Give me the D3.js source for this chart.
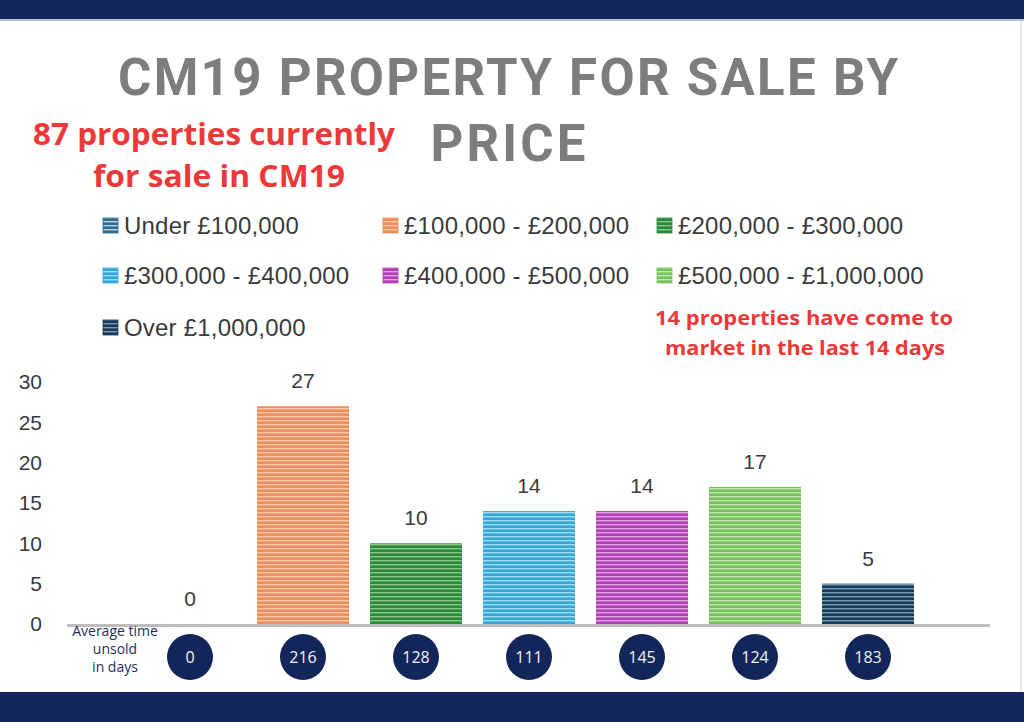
<!DOCTYPE html>
<html>
<head>
<meta charset="utf-8">
<script src="https://cdn.jsdelivr.net/npm/d3@7"></script>
<style>
  body { margin: 0; background: #fff; }
  svg { display: block; }
</style>
</head>
<body>
<div id="chart"></div>
<script>
// data
var categories = ["Under £100,000", "£100,000 - £200,000", "£200,000 - £300,000",
  "£300,000 - £400,000", "£400,000 - £500,000", "£500,000 - £1,000,000", "Over £1,000,000"];
var counts = [0, 27, 10, 14, 14, 17, 5];
var avgDays = [0, 216, 128, 111, 145, 124, 183];
var yTicks = [0, 5, 10, 15, 20, 25, 30];
var colors = ["#2d6b94", "#ef8d58", "#2c8a3a", "#30a7dc", "#b23fb5", "#76c25a", "#1b3a56"];
var stripeColors = ["#ffffff", "#ffe2cf", "#a8e0a8", "#d8f2ff", "#f6c8f4", "#e3f8d4", "#9cc6e2"];

var w = 1024;
var h = 722;
var navy = "#13265a";

var svg = d3.select("#chart")
    .append("svg")
    .attr("width", w)
    .attr("height", h);

svg.append("rect").attr("width", w).attr("height", h).attr("fill", "#fff");

// stripe patterns for the bars
var defs = svg.append("defs");
colors.forEach(function(c, i) {
  var p = defs.append("pattern")
      .attr("id", "stripe" + i)
      .attr("patternUnits", "userSpaceOnUse")
      .attr("width", 8)
      .attr("height", 4);
  p.append("rect").attr("width", 8).attr("height", 4).attr("fill", c);
  p.append("rect").attr("y", 0).attr("width", 8).attr("height", 1.4)
      .attr("fill", stripeColors[i]).attr("opacity", 0.7);
});

// frame bands
svg.append("rect").attr("x", 0).attr("y", 0).attr("width", w).attr("height", 19).attr("fill", navy);
svg.append("rect").attr("x", 0).attr("y", 19).attr("width", w).attr("height", 2).attr("fill", "#b9c0d4");
svg.append("rect").attr("x", 0).attr("y", 692).attr("width", w).attr("height", 30).attr("fill", navy);
svg.append("line").attr("x1", 1021).attr("x2", 1021).attr("y1", 21).attr("y2", 692)
    .attr("stroke", "#e2e2e2").attr("stroke-width", 1.5);

// title
svg.append("text")
   .attr("x", 508).attr("y", 95)
   .attr("text-anchor", "middle")
   .attr("font-family", "Roboto, sans-serif")
   .attr("font-weight", "bold")
   .attr("font-size", "51px")
   .attr("fill", "#7d7d7d")
   .attr("textLength", 780)
   .attr("lengthAdjust", "spacing")
   .text("CM19 PROPERTY FOR SALE BY");
svg.append("text")
   .attr("x", 508).attr("y", 161)
   .attr("text-anchor", "middle")
   .attr("font-family", "Roboto, sans-serif")
   .attr("font-weight", "bold")
   .attr("font-size", "51px")
   .attr("fill", "#7d7d7d")
   .attr("textLength", 155)
   .attr("lengthAdjust", "spacing")
   .text("PRICE");

// red notes
var red = "#ec3838";
svg.append("text").attr("x", 214).attr("y", 145).attr("text-anchor", "middle")
   .attr("font-family", "'Open Sans', sans-serif").attr("font-weight", "bold")
   .attr("font-size", "31px").attr("fill", red)
   .attr("textLength", 362).attr("lengthAdjust", "spacingAndGlyphs")
   .text("87 properties currently");
svg.append("text").attr("x", 219).attr("y", 187).attr("text-anchor", "middle")
   .attr("font-family", "'Open Sans', sans-serif").attr("font-weight", "bold")
   .attr("font-size", "31px").attr("fill", red)
   .attr("textLength", 252).attr("lengthAdjust", "spacingAndGlyphs")
   .text("for sale in CM19");
svg.append("text").attr("x", 804).attr("y", 325).attr("text-anchor", "middle")
   .attr("font-family", "'Open Sans', sans-serif").attr("font-weight", "bold")
   .attr("font-size", "19px").attr("fill", red)
   .attr("textLength", 298).attr("lengthAdjust", "spacingAndGlyphs")
   .text("14 properties have come to");
svg.append("text").attr("x", 805).attr("y", 355).attr("text-anchor", "middle")
   .attr("font-family", "'Open Sans', sans-serif").attr("font-weight", "bold")
   .attr("font-size", "19px").attr("fill", red)
   .attr("textLength", 280).attr("lengthAdjust", "spacingAndGlyphs")
   .text("market in the last 14 days");

// legend
var legendX = [103, 383, 657];
var legendY = [225, 275, 327];
var legend = svg.selectAll("g.legend")
   .data(categories)
   .enter()
   .append("g")
   .attr("class", "legend")
   .attr("transform", function(d, i) {
      return "translate(" + legendX[i % 3] + "," + legendY[Math.floor(i / 3)] + ")";
   });
legend.append("rect")
   .attr("x", 0).attr("y", -7)
   .attr("width", 15).attr("height", 15)
   .attr("fill", function(d, i) { return "url(#stripe" + i + ")"; })
   .attr("stroke", function(d, i) { return colors[i]; })
   .attr("stroke-width", 0.8);
legend.append("text")
   .attr("x", 21).attr("y", 9)
   .attr("font-family", "'Liberation Sans', Arial, sans-serif")
   .attr("font-size", "24px")
   .attr("letter-spacing", "0.2px")
   .attr("fill", "#3a3a3a")
   .text(function(d) { return d; });

// scales
var x = d3.scaleBand()
   .domain(categories)
   .range([133.5, 924.5])
   .paddingInner(0.186)
   .paddingOuter(0.093);
var y = d3.scaleLinear()
   .domain([0, 30])
   .range([624, 382]);

// y axis labels
var yAxis = svg.append("g")
   .attr("transform", "translate(42,0)")
   .call(d3.axisLeft(y).tickValues(yTicks).tickSize(0).tickPadding(0));
yAxis.select(".domain").remove();
yAxis.selectAll("text")
   .attr("font-family", "'Liberation Sans', Arial, sans-serif")
   .attr("font-size", "21px")
   .attr("fill", "#3a3a3a");

// bars
svg.selectAll("rect.bar")
   .data(counts)
   .enter()
   .append("rect")
   .attr("class", "bar")
   .attr("x", function(d, i) { return x(categories[i]); })
   .attr("y", function(d) { return y(d); })
   .attr("width", x.bandwidth())
   .attr("height", function(d) { return y(0) - y(d); })
   .attr("fill", function(d, i) { return "url(#stripe" + i + ")"; });

// baseline
svg.append("line")
   .attr("x1", 67).attr("x2", 990)
   .attr("y1", y(0) + 1.5).attr("y2", y(0) + 1.5)
   .attr("stroke", "#bdbdbd").attr("stroke-width", 3);

// value labels
svg.selectAll("text.value")
   .data(counts)
   .enter()
   .append("text")
   .attr("class", "value")
   .attr("text-anchor", "middle")
   .attr("x", function(d, i) { return x(categories[i]) + x.bandwidth() / 2; })
   .attr("y", function(d) { return y(d) - 18; })
   .attr("font-family", "'Liberation Sans', Arial, sans-serif")
   .attr("font-size", "21px")
   .attr("fill", "#3a3a3a")
   .text(function(d) { return d; });

// average days circles
svg.selectAll("circle.days")
   .data(avgDays)
   .enter()
   .append("circle")
   .attr("class", "days")
   .attr("cx", function(d, i) { return x(categories[i]) + x.bandwidth() / 2; })
   .attr("cy", 657)
   .attr("r", 23)
   .attr("fill", navy);
svg.selectAll("text.days")
   .data(avgDays)
   .enter()
   .append("text")
   .attr("class", "days")
   .attr("text-anchor", "middle")
   .attr("x", function(d, i) { return x(categories[i]) + x.bandwidth() / 2; })
   .attr("y", 663)
   .attr("font-family", "'Open Sans', sans-serif")
   .attr("font-size", "16px")
   .attr("fill", "#f2f2f2")
   .text(function(d) { return d; });

var note = ["Average time", "unsold", "in days"];
svg.selectAll("text.note")
   .data(note)
   .enter()
   .append("text")
   .attr("class", "note")
   .attr("text-anchor", "middle")
   .attr("x", 115)
   .attr("y", function(d, i) { return 636 + i * 18; })
   .attr("font-family", "'Open Sans', sans-serif")
   .attr("font-size", "14px")
   .attr("fill", "#1e2f60")
   .text(function(d) { return d; });
</script>
</body>
</html>
